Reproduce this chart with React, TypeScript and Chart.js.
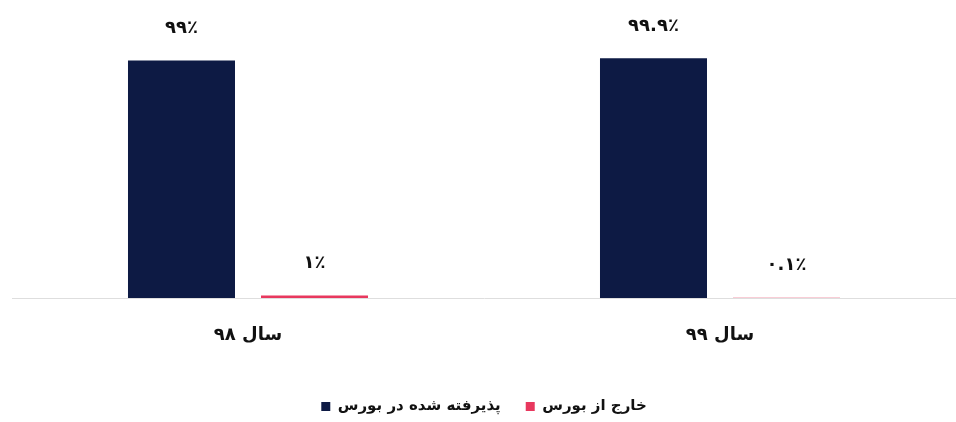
import React, { useEffect, useRef } from "react";
import { Chart, registerables } from "chart.js";

Chart.register(...registerables);

const categories = ["سال ۹۸", "سال ۹۹"];
const seriesNames = ["پذیرفته شده در بورس", "خارج از بورس"];
const listedValues = [99, 99.9];
const otcValues = [1, 0.1];
const seriesColors = ["#0d1a44", "#e8385e"];

const FONT = "'DejaVu Sans', sans-serif";

function toFa(s: string): string {
  return s.replace(/[0-9]/g, (d) => "۰۱۲۳۴۵۶۷۸۹"[Number(d)]);
}

const valueLabelPlugin = {
  id: "valueLabels",
  afterDatasetsDraw(chart: any) {
    const ctx = chart.ctx;
    ctx.save();
    ctx.font = `bold 18px ${FONT}`;
    ctx.fillStyle = "#111";
    ctx.textAlign = "center";
    ctx.textBaseline = "middle";
    chart.data.datasets.forEach((ds: any, i: number) => {
      const meta = chart.getDatasetMeta(i);
      meta.data.forEach((bar: any, j: number) => {
        const v = ds.data[j];
        ctx.fillText(toFa(String(v)) + "٪", bar.x, bar.y - 32);
      });
    });
    ctx.restore();
  },
};

export default function App() {
  const ref = useRef<HTMLCanvasElement>(null);
  useEffect(() => {
    if (!ref.current) return;
    const chart = new Chart(ref.current, {
      type: "bar",
      data: {
        labels: categories,
        datasets: [
          {
            label: seriesNames[0],
            data: listedValues,
            backgroundColor: seriesColors[0],
            categoryPercentage: 0.5636,
            barPercentage: 0.8045,
          },
          {
            label: seriesNames[1],
            data: otcValues,
            backgroundColor: seriesColors[1],
            categoryPercentage: 0.5636,
            barPercentage: 0.8045,
          },
        ],
      },
      options: {
        animation: false,
        responsive: true,
        maintainAspectRatio: false,
        layout: { padding: { left: 12, right: 0, top: 58, bottom: -2 } },
        plugins: {
          legend: {
            position: "bottom",
            labels: {
              boxWidth: 9,
              boxHeight: 9,
              padding: 25,
              color: "#111",
              font: { family: FONT, size: 15, weight: "bold" },
            },
          },
          tooltip: { enabled: false },
        },
        scales: {
          x: {
            grid: { display: false },
            border: { display: true, color: "#dedede", width: 1 },
            ticks: {
              color: "#111",
              padding: 19,
              font: { family: FONT, size: 18, weight: "bold" },
            },
            afterFit: (s: any) => {
              s.height = 76;
            },
          },
          y: {
            display: false,
            min: 0,
            max: 100,
          },
        },
      },
      plugins: [valueLabelPlugin],
    });
    return () => chart.destroy();
  }, []);
  return (
    <div style={{ position: "absolute", left: 0, top: 0, width: 956, height: 422, background: "#fff" }}>
      <canvas ref={ref} />
    </div>
  );
}
